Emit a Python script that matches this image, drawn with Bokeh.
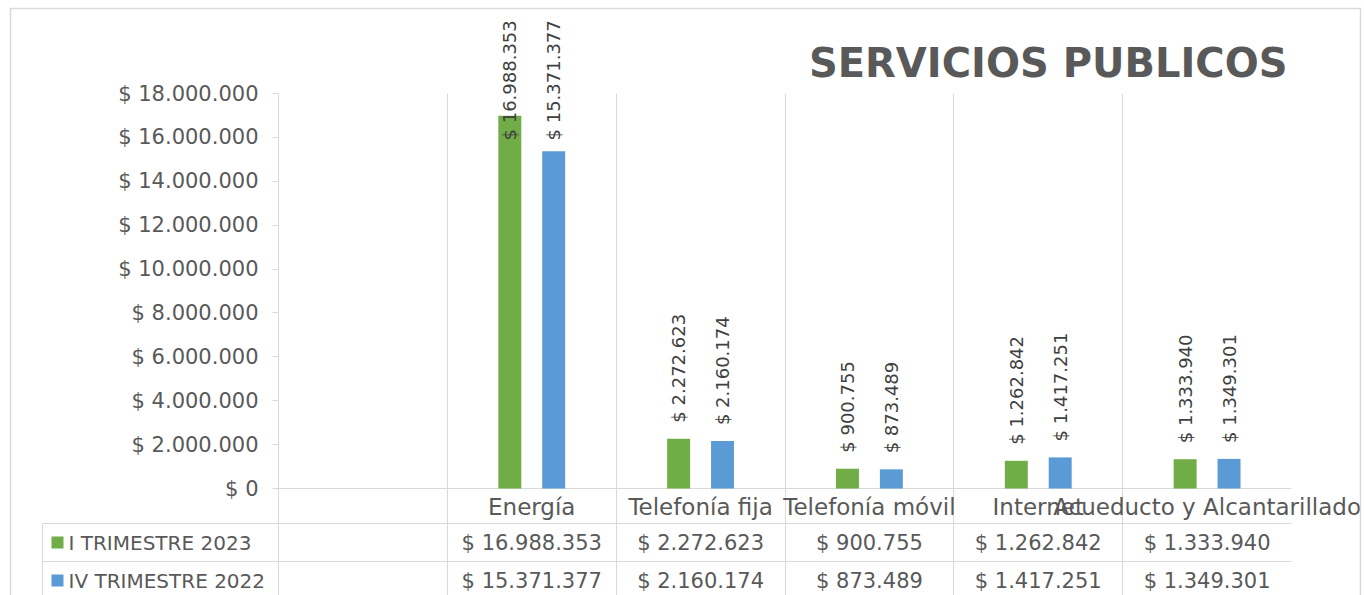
import math
from bokeh.plotting import figure
from bokeh.models import Range1d, FixedTicker
from bokeh.embed import file_html
from bokeh.resources import INLINE
from bokeh.core.properties import value

# ---------------- data ----------------
categories = ["Energía", "Telefonía fija", "Telefonía móvil", "Internet", "Acueducto y Alcantarillado"]
series_names = ["I TRIMESTRE 2023", "IV TRIMESTRE 2022"]
trim_i_2023 = [16988353, 2272623, 900755, 1262842, 1333940]
trim_iv_2022 = [15371377, 2160174, 873489, 1417251, 1349301]
series_colors = ["#70AD47", "#5B9BD5"]
y_ticks = [0, 2000000, 4000000, 6000000, 8000000, 10000000, 12000000, 14000000, 16000000, 18000000]
y_tick_labels = ["$ 0", "$ 2.000.000", "$ 4.000.000", "$ 6.000.000", "$ 8.000.000", "$ 10.000.000",
                 "$ 12.000.000", "$ 14.000.000", "$ 16.000.000", "$ 18.000.000"]
title_text = "SERVICIOS PUBLICOS"


def money(v):
    return "$ " + f"{v:,}".replace(",", ".")


# ---------------- layout (pixels) ----------------
W, H = 1364, 595
FL, FR, FT, FB = 278, 1291, 93, 595     # plot frame
Y0_PX = 488                              # pixel row of value 0
Y_MAX = y_ticks[-1]
NCOL = len(categories) + 1               # leading blank column like the original
px_per_x = (FR - FL) / NCOL
val_per_px = Y_MAX / (Y0_PX - FT)


def px2x(px):
    return (px - FL) / px_per_x


def px2y(py):
    return (Y0_PX - py) * val_per_px


GRID = "#d9d9d9"
TXT = "#595959"
FONT = value("DejaVu Sans")

p = figure(width=W, height=H, x_range=Range1d(0, NCOL), y_range=Range1d(px2y(FB), Y_MAX),
           output_backend="svg", toolbar_location=None, tools="",
           min_border_left=FL, min_border_right=W - FR, min_border_top=FT, min_border_bottom=0,
           x_axis_location=None, y_axis_location="left")
p.outline_line_color = None
p.background_fill_color = "white"
p.border_fill_color = "white"

# vertical grid at column boundaries
p.xgrid.ticker = FixedTicker(ticks=list(range(NCOL + 1)))
p.xgrid.grid_line_color = GRID
p.ygrid.visible = False

# y axis
yax = p.yaxis[0]
yax.ticker = FixedTicker(ticks=y_ticks)
yax.major_label_overrides = {t: l for t, l in zip(y_ticks, y_tick_labels)}
yax.axis_line_color = GRID
yax.major_tick_line_color = GRID
yax.major_tick_out = 6
yax.major_tick_in = 0
yax.minor_tick_line_color = None
yax.major_label_standoff = 14
yax.major_label_text_font = "DejaVu Sans"
yax.major_label_text_font_size = "21px"
yax.major_label_text_color = TXT

# zero line
p.segment(x0=[0], x1=[NCOL], y0=[0], y1=[0], line_color=GRID, line_width=1)

# bars
xc = [i + 1.5 for i in range(len(categories))]
OFF, BW = 0.13, 0.136
x1 = [x - OFF for x in xc]
x2 = [x + OFF for x in xc]
p.vbar(x=x1, top=trim_i_2023, width=BW, bottom=0, fill_color=series_colors[0], line_color=None)
p.vbar(x=x2, top=trim_iv_2022, width=BW, bottom=0, fill_color=series_colors[1], line_color=None)

# rotated data labels
GAP = 16 * val_per_px
CLAMP = px2y(140)
for xs, vals in ((x1, trim_i_2023), (x2, trim_iv_2022)):
    p.text(x=xs, y=[min(v + GAP, CLAMP) for v in vals], text=[money(v) for v in vals],
           angle=math.pi / 2, text_align="left", text_baseline="middle",
           text_font=FONT, text_font_size="18px", text_color="#404040", level="overlay")

# data table
ROW_CAT, ROW_1, ROW_2 = 506, 542, 580
p.text(x=xc, y=[px2y(ROW_CAT)] * len(xc), text=categories, text_align="center",
       text_baseline="middle", text_font=FONT, text_font_size="23px", text_color=TXT, level="overlay")
for row, vals in ((ROW_1, trim_i_2023), (ROW_2, trim_iv_2022)):
    p.text(x=xc, y=[px2y(row)] * len(xc), text=[money(v) for v in vals], text_align="center",
           text_baseline="middle", text_font=FONT, text_font_size="21px", text_color=TXT)

# table lines
TL = px2x(42)
p.segment(x0=[TL, TL], x1=[NCOL, NCOL], y0=[px2y(523), px2y(561)], y1=[px2y(523), px2y(561)],
          line_color=GRID, line_width=1, level="overlay")
p.segment(x0=[TL], x1=[TL], y0=[px2y(523)], y1=[px2y(FB + 2)], line_color=GRID, line_width=1,
          level="overlay")

# legend keys in the table (12 px squares drawn as thick short segments)
p.segment(x0=[px2x(51)] * 2, x1=[px2x(63)] * 2, y0=[px2y(ROW_1), px2y(ROW_2)],
          y1=[px2y(ROW_1), px2y(ROW_2)], line_color=series_colors, line_width=12,
          line_cap="butt", level="overlay")
p.text(x=[px2x(68)] * 2, y=[px2y(ROW_1), px2y(ROW_2)], text=series_names, text_align="left",
       text_baseline="middle", text_font=FONT, text_font_size="20px", text_color=TXT, level="overlay")

# chart border
p.quad(left=[px2x(10)], right=[px2x(1360)], top=[px2y(8)], bottom=[px2y(FB + 5)],
       fill_color=None, line_color=GRID, line_width=1.5, level="overlay")

# title
p.text(x=[px2x(1287)], y=[px2y(62)], text=[title_text], text_align="right", text_baseline="alphabetic",
       text_font=FONT, text_font_size="40px", text_font_style="bold", text_color=TXT, level="overlay")

open("out.html", "w").write(file_html(p, INLINE))
